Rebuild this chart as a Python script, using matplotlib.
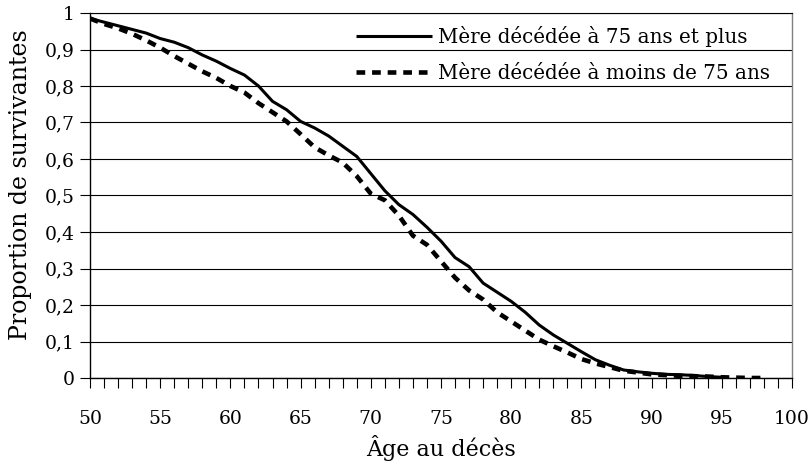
import matplotlib
matplotlib.use("Agg")
import matplotlib.pyplot as plt
from matplotlib.ticker import FuncFormatter, MultipleLocator

ages_75plus = list(range(50, 96))
mere_75_plus = [0.985, 0.975, 0.965, 0.955, 0.945, 0.93, 0.92, 0.905, 0.885, 0.868,
                0.848, 0.83, 0.80, 0.758, 0.735, 0.703, 0.685, 0.663, 0.635, 0.607,
                0.56, 0.513, 0.475, 0.448, 0.413, 0.375, 0.33, 0.305, 0.26, 0.235,
                0.21, 0.18, 0.145, 0.118, 0.095, 0.072, 0.05, 0.035, 0.022, 0.017,
                0.013, 0.01, 0.009, 0.007, 0.004, 0.002]

ages_moins75 = list(range(50, 99))
mere_moins_75 = [0.985, 0.97, 0.958, 0.943, 0.925, 0.905, 0.882, 0.861, 0.84, 0.822,
                 0.80, 0.782, 0.753, 0.728, 0.703, 0.668, 0.632, 0.61, 0.59, 0.553,
                 0.505, 0.487, 0.445, 0.39, 0.365, 0.32, 0.275, 0.24, 0.215, 0.18,
                 0.155, 0.13, 0.105, 0.087, 0.07, 0.052, 0.04, 0.03, 0.02, 0.015,
                 0.01, 0.008, 0.006, 0.005, 0.004, 0.002, 0.001, 0.0, 0.0]

label_plus = "Mère décédée à 75 ans et plus"
label_moins = "Mère décédée à moins de 75 ans"
xlabel = "Âge au décès"
ylabel = "Proportion de survivantes"

plt.rcParams['font.family'] = ['DejaVu Serif']

fig = plt.figure(figsize=(8.11, 4.66), dpi=100)
ax = fig.add_axes([90/811, 1 - 378/466, (792-90)/811, (378-13)/466])

ax.plot(ages_75plus, mere_75_plus, color='black', lw=2.2, solid_capstyle='butt',
        label=label_plus, zorder=3)
ax.plot(ages_moins75, mere_moins_75, color='black', lw=3.3, linestyle=(0, (1.9, 1.5)),
        dash_capstyle='butt', label=label_moins, zorder=3)

ax.set_xlim(50, 100)
ax.set_ylim(0, 1)
ax.xaxis.set_major_locator(MultipleLocator(5))
ax.xaxis.set_minor_locator(MultipleLocator(1))
ax.yaxis.set_major_locator(MultipleLocator(0.1))

def fmt(v, pos):
    s = f"{v:.1f}".rstrip('0').rstrip('.')
    return s.replace('.', ',')
ax.yaxis.set_major_formatter(FuncFormatter(fmt))

ax.grid(axis='y', color='black', lw=0.8, zorder=1)
ax.tick_params(axis='x', which='both', direction='out', length=7, width=0.8, color='black')
ax.tick_params(axis='x', which='major', pad=16, labelsize=13.5)
ax.tick_params(axis='y', direction='out', length=7, width=0.8, labelsize=13.5, pad=4)

for s in ['left', 'bottom']:
    ax.spines[s].set_color('black')
    ax.spines[s].set_linewidth(1.0)
ax.spines['top'].set_color('black')
ax.spines['top'].set_linewidth(0.8)
ax.spines['right'].set_color('#808080')
ax.spines['right'].set_linewidth(1.0)

ax.set_xlabel(xlabel, fontsize=16, labelpad=5)
ax.set_ylabel(ylabel, fontsize=17)
ax.yaxis.set_label_coords(-0.082, 0.53)

leg = ax.legend(loc='upper right', frameon=False, fontsize=14.3, handlelength=3.8,
                handletextpad=0.3, labelspacing=0.85, bbox_to_anchor=(0.985, 0.997),
                borderaxespad=0.2)

fig.savefig("out.png", dpi=100)
